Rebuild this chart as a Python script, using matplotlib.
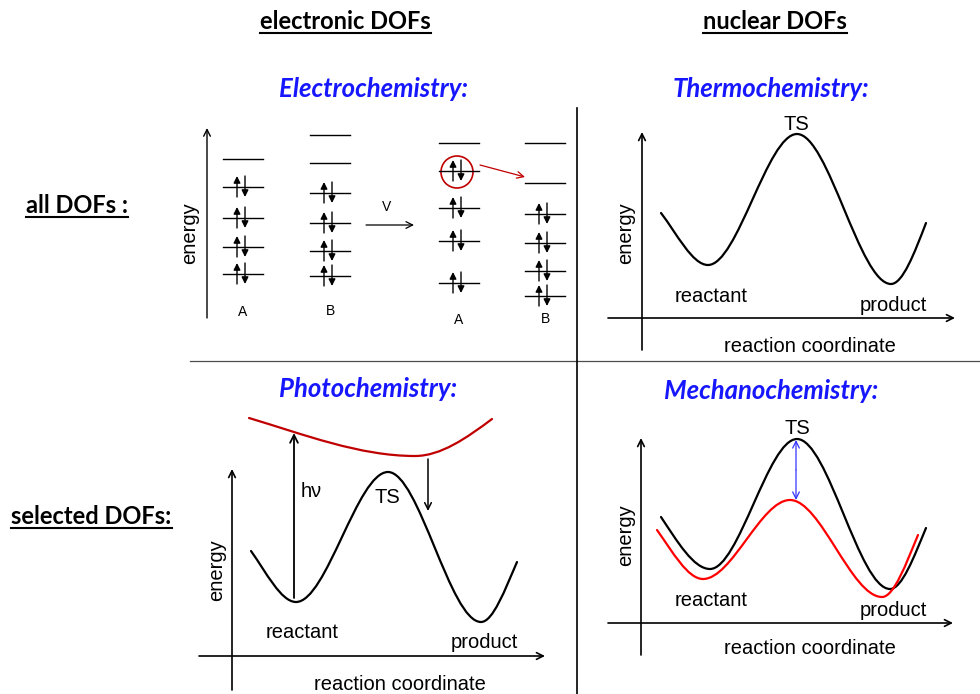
import numpy as np
import matplotlib
matplotlib.use("Agg")
from matplotlib import pyplot as plt
from matplotlib.path import Path
from matplotlib.patches import PathPatch, Circle

# ---- data (pixel coords, y grows downward) ----
# each curve: key points (ends, minima, maxima) and the slope at each
thermo_x = [661, 708, 797, 891, 926]
thermo_y = [213, 265, 134, 284, 223]
thermo_m = [1.3, 0, 0, 0, -2.6]

photo_x = [251, 296, 388, 481, 517]
photo_y = [551, 602, 472, 622, 562]
photo_m = [1.4, 0, 0, 0, -2.3]
excited_x = [249, 415, 492]
excited_y = [418, 456, 419]
excited_m = [0.3, 0, -0.75]

mech_x = [661, 710, 797, 890, 926]
mech_y = [517, 569, 439, 589, 528]
mech_m = [1.5, 0, 0, 0, -2.4]
force_x = [657, 703, 790, 882, 918]
force_y = [530, 579, 500, 597, 535]
force_m = [1.4, 0, 0, 0, -2.4]

# orbital levels per column and whether each holds an electron pair
levels_A = [159, 187, 218, 247, 274]
filled_A = [False, True, True, True, True]
levels_B = [135, 163, 193, 223, 251, 276]
filled_B = [False, False, True, True, True, True]
levels_A2 = [143, 171, 208, 241, 283]
filled_A2 = [False, True, True, True, True]
levels_B2 = [143, 183, 214, 243, 271, 296]
filled_B2 = [False, False, True, True, True, True]

HEAD = "Lato"
LAB = "Liberation Sans"
BLUE = "#1717ff"

fig = plt.figure(figsize=(9.8, 6.94), dpi=100)
ax = fig.add_axes([0, 0, 1, 1])
ax.set_xlim(0, 980)
ax.set_ylim(694, 0)
ax.axis("off")


def smooth(xs, ys, ms, color, lw=1.6):
    verts = [(xs[0], ys[0])]
    codes = [Path.MOVETO]
    for i in range(len(xs) - 1):
        h = (xs[i + 1] - xs[i]) / 3
        verts += [(xs[i] + h, ys[i] + h * ms[i]),
                  (xs[i + 1] - h, ys[i + 1] - h * ms[i + 1]),
                  (xs[i + 1], ys[i + 1])]
        codes += [Path.CURVE4] * 3
    ax.add_patch(PathPatch(Path(verts, codes), fill=False, ec=color, lw=lw,
                           capstyle="round", joinstyle="round"))


def arrow(x0, y0, x1, y1, color="k", lw=1.2, style="->", ms=12):
    ax.annotate("", xy=(x1, y1), xytext=(x0, y0),
                arrowprops=dict(arrowstyle=style, color=color, lw=lw,
                                mutation_scale=ms, shrinkA=0, shrinkB=0))


def header(x, y, s, x0, x1):
    ax.text(x, y, s, ha="center", va="center", family=HEAD,
            fontweight="bold", fontsize=17)
    ax.plot([x0, x1], [y + 12, y + 12], color="k", lw=1.5)


def blue_title(x, y, s):
    ax.text(x, y, s, ha="center", va="center", family=HEAD,
            fontweight="bold", style="italic", fontsize=18.5, color=BLUE)


def lab(x, y, s, **kw):
    kw.setdefault("fontsize", 14.5)
    ax.text(x, y, s, ha="center", va="center", family=LAB, **kw)


# headings
header(345, 21, "electronic DOFs", 260, 431)
header(775, 21, "nuclear DOFs", 703, 847)
header(77, 205, "all DOFs :", 26, 128)
header(91, 516, "selected DOFs:", 11, 172)
blue_title(373, 89, "Electrochemistry:")
blue_title(771, 89, "Thermochemistry:")
blue_title(368, 389, "Photochemistry:")
blue_title(771, 391, "Mechanochemistry:")

# panel dividers
ax.plot([577, 577], [108, 694], color="k", lw=1.2)
ax.plot([190, 980], [361, 361], color="k", lw=0.9, alpha=0.7)

# ---- electrochemistry: orbital levels ----
arrow(207, 318, 207, 128, lw=1.0)
lab(190, 233, "energy", rotation=90)


def column(xc, ys, filled, name, name_y):
    for yl, f in zip(ys, filled):
        ax.plot([xc - 20, xc + 20], [yl, yl], color="k", lw=1.0)
        if f:
            arrow(xc - 6, yl + 10, xc - 6, yl - 11, lw=1.0, style="-|>", ms=10)
            arrow(xc + 2, yl - 11, xc + 2, yl + 10, lw=1.0, style="-|>", ms=10)
    lab(xc, name_y, name, fontsize=10)


column(243, levels_A, filled_A, "A", 312)
column(330, levels_B, filled_B, "B", 311)
column(459, levels_A2, filled_A2, "A", 320)
column(545, levels_B2, filled_B2, "B", 319)

lab(387, 207, "V", fontsize=10)
arrow(366, 225, 414, 225, lw=0.9)
ax.add_patch(Circle((457, 172), 16, fill=False, ec="#c00000", lw=1.2))
arrow(480, 165, 525, 177, color="#c00000", lw=0.9)

# ---- thermochemistry ----
arrow(642, 350, 642, 132, lw=1.2)
arrow(608, 318, 955, 318, lw=1.2)
smooth(thermo_x, thermo_y, thermo_m, "k")
lab(796, 124, "TS")
lab(711, 296, "reactant")
lab(893, 305, "product")
lab(810, 346, "reaction coordinate")
lab(626, 233, "energy", rotation=90)

# ---- photochemistry ----
arrow(232, 690, 232, 469, lw=1.2)
arrow(199, 656, 545, 656, lw=1.2)
smooth(photo_x, photo_y, photo_m, "k")
smooth(excited_x, excited_y, excited_m, "#c00000")
arrow(294, 598, 294, 433, lw=1.3, ms=14)
arrow(428, 459, 428, 511, lw=1.1)
lab(311, 491, "h\u03bd")
lab(387, 497, "TS")
lab(302, 632, "reactant")
lab(484, 643, "product")
lab(400, 684, "reaction coordinate")
lab(217, 570, "energy", rotation=90)

# ---- mechanochemistry ----
arrow(641, 655, 641, 438, lw=1.2)
arrow(608, 623, 953, 623, lw=1.2)
smooth(mech_x, mech_y, mech_m, "k")
smooth(force_x, force_y, force_m, "#ff0000")
arrow(796, 470, 796, 440, color="#3333ff", lw=0.9)
arrow(796, 470, 796, 500, color="#3333ff", lw=0.9)
lab(797, 428, "TS")
lab(711, 600, "reactant")
lab(893, 611, "product")
lab(810, 649, "reaction coordinate")
lab(626, 535, "energy", rotation=90)

fig.savefig("out.png", dpi=100)
